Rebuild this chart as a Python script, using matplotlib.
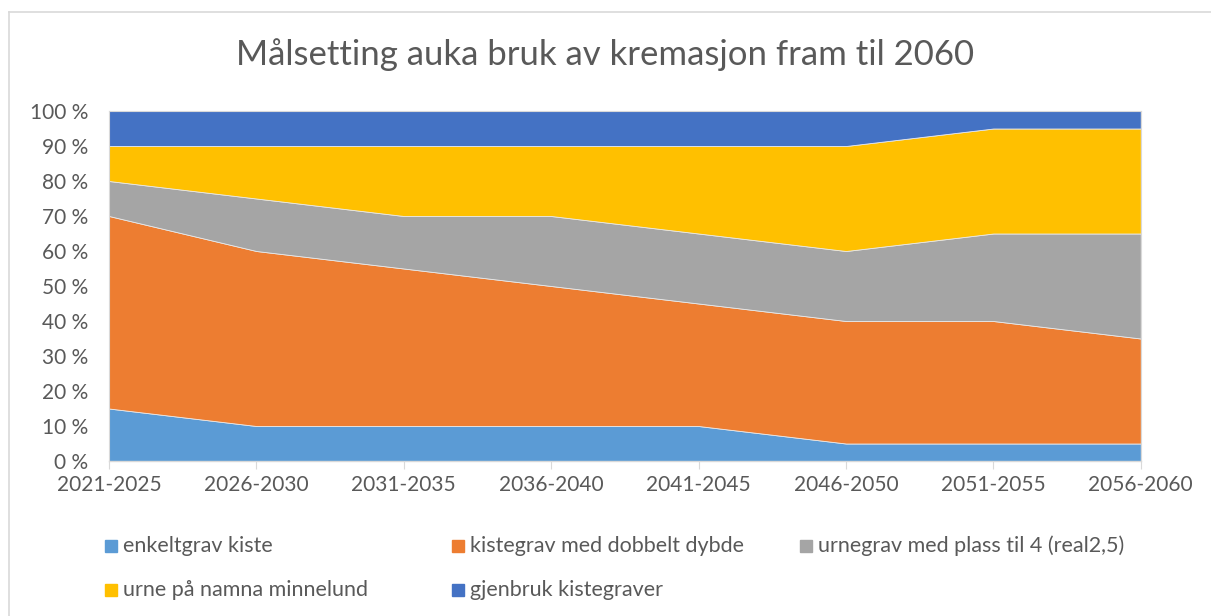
import matplotlib
matplotlib.use("Agg")
import matplotlib.pyplot as plt
from matplotlib.patches import Rectangle
from matplotlib.lines import Line2D

plt.rcParams["font.family"] = ["Lato", "DejaVu Sans"]

periods = ["2021-2025", "2026-2030", "2031-2035", "2036-2040",
           "2041-2045", "2046-2050", "2051-2055", "2056-2060"]
enkeltgrav = [15, 10, 10, 10, 10, 5, 5, 5]
kistegrav_dobbel = [55, 50, 45, 40, 35, 35, 35, 30]
urnegrav = [10, 15, 15, 20, 20, 20, 25, 30]
urne_minnelund = [10, 15, 20, 20, 25, 30, 30, 30]
gjenbruk = [10, 10, 10, 10, 10, 10, 5, 5]

labels = ["enkeltgrav kiste", "kistegrav med dobbelt dybde",
          "urnegrav med plass til 4 (real2,5)", "urne på namna minnelund",
          "gjenbruk kistegraver"]
colors = ["#5B9BD5", "#ED7D31", "#A5A5A5", "#FFC000", "#4472C4"]
TXT = "#595959"

fig = plt.figure(figsize=(12.11, 6.16), dpi=100)
ax = fig.add_axes([0.090, 0.2516, 0.852, 0.5682])

x = list(range(len(periods)))
ax.stackplot(x, enkeltgrav, kistegrav_dobbel, urnegrav, urne_minnelund, gjenbruk,
             colors=colors, edgecolor="#E8E8E8", linewidth=0.6)
ax.set_xlim(0, len(periods) - 1)
ax.set_ylim(0, 100)
ax.set_yticks(range(0, 101, 10))
ax.set_yticklabels([f"{v} %" for v in range(0, 101, 10)])
ax.set_xticks(x)
ax.set_xticklabels(periods)
ax.tick_params(axis="y", length=0, labelsize=15, labelcolor=TXT, pad=15)
ax.tick_params(axis="x", length=6, color="#D9D9D9", labelsize=15, labelcolor=TXT, pad=4)
for s in ("top", "right", "left"):
    ax.spines[s].set_color("#D9D9D9")
    ax.spines[s].set_linewidth(0.8)
ax.spines["bottom"].set_color("#D9D9D9")
ax.spines["bottom"].set_linewidth(1.0)

fig.text(0.5, 0.912, "Målsetting auka bruk av kremasjon fram til 2060",
         ha="center", va="center", fontsize=25, color=TXT)

# legend laid out like the Excel one: 3 columns, 2 rows
leg_pos = [(105, 546), (452, 546), (800, 546), (105, 590), (452, 590)]
W, H = 1211, 616
for (px, py), lab, col in zip(leg_pos, labels, colors):
    fig.patches.append(Rectangle((px / W, 1 - (py + 6) / H), 12 / W, 12 / H,
                                 transform=fig.transFigure, color=col))
    fig.text((px + 18) / W, 1 - py / H, lab, ha="left", va="center",
             fontsize=15.5, color=TXT)

# chart border (left and top visible)
fig.lines.append(Line2D([9 / W, 9 / W], [0, 1 - 12 / H], transform=fig.transFigure,
                        color="#D9D9D9", lw=1.2))
fig.lines.append(Line2D([9 / W, 1], [1 - 12 / H, 1 - 12 / H], transform=fig.transFigure,
                        color="#D9D9D9", lw=1.2))

fig.savefig("out.png", dpi=100, facecolor="white")
